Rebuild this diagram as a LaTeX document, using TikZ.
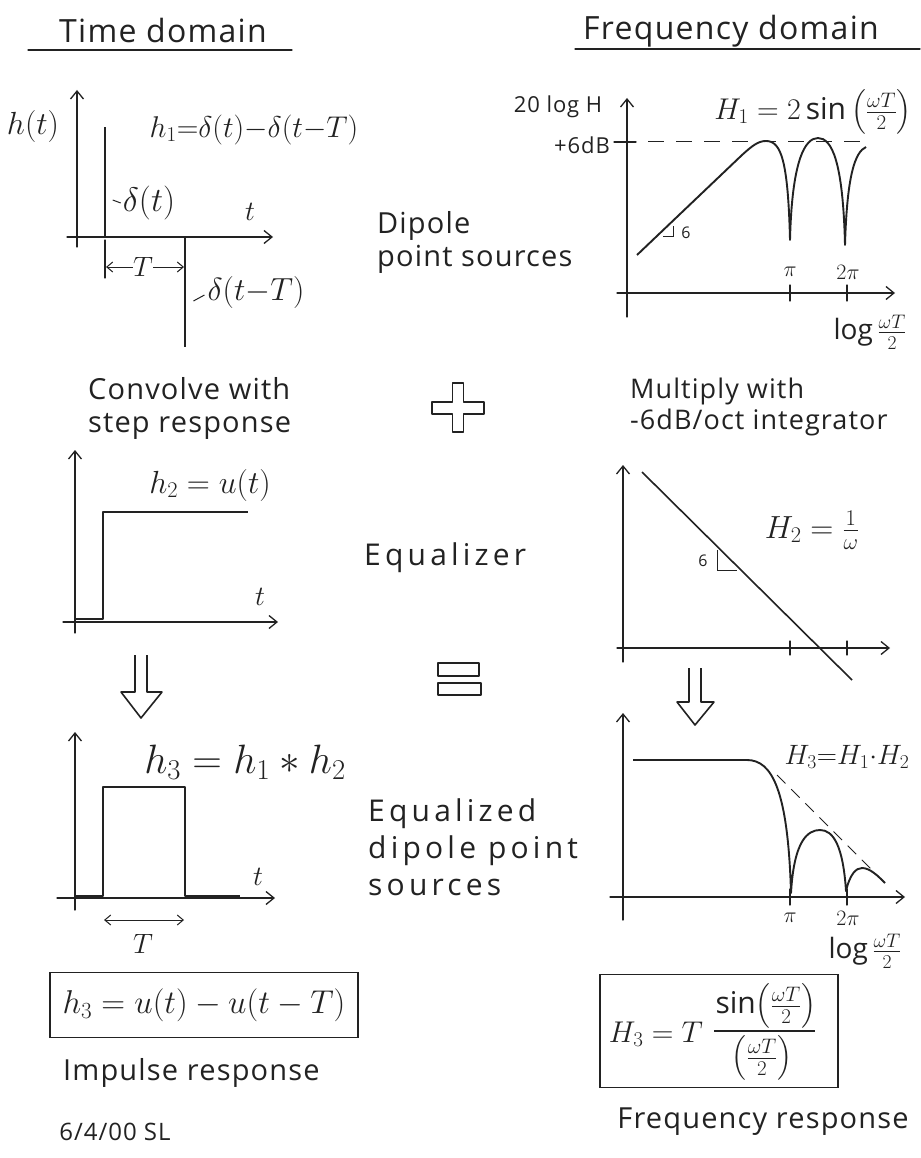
\RequirePackage{fix-cm}
\documentclass[tikz,border=0pt]{standalone}
\usepackage{amsmath}
\usepackage{fontspec}
\setmainfont[LetterSpace=4]{Open Sans}
\newfontfamily\widefont[LetterSpace=14]{Open Sans}
\usetikzlibrary{arrows.meta}
\definecolor{ink}{HTML}{222222}
\tikzset{
  ln/.style={draw=ink, line width=1.3pt, line cap=round, line join=round},
  ax/.style={ln, -{Straight Barb[length=8pt,width=13pt,line width=1.3pt]}},
  spike/.style={draw=ink, line width=2.6pt},
  sig/.style={draw=ink, line width=1.9pt, line join=round},
  dim/.style={draw=ink, line width=1pt, -{Straight Barb[length=6pt,width=10pt,line width=1pt]}},
  dimboth/.style={draw=ink, line width=1pt, {Straight Barb[length=6pt,width=10pt,line width=1pt]}-{Straight Barb[length=6pt,width=10pt,line width=1pt]}},
  hollow/.style={draw=ink, line width=1.6pt, line join=round},
  txt/.style={text=ink, inner sep=0pt},
  ttl/.style={txt, font=\fontsize{32}{36}\selectfont},
  lbl/.style={txt, font=\fontsize{29}{33}\selectfont},
  lblw/.style={txt, font=\widefont\fontsize{30}{37}\selectfont},
  mth/.style={txt, font=\fontsize{28}{32}\selectfont},
  mthb/.style={txt, font=\fontsize{32}{36}\selectfont},
  mthf/.style={txt, font=\fontsize{30}{34}\selectfont},
  sm/.style={txt, font=\fontsize{22}{26}\selectfont},
  tiny/.style={txt, font=\fontsize{16}{20}\selectfont},
  frame/.style={draw=ink, line width=1.6pt},
}
\begin{document}
\begin{tikzpicture}[x=1pt,y=-1pt]
\fill[white] (0,0) rectangle (920,1158);
\useasboundingbox (0,0) rectangle (920,1158);

% ---------- titles ----------
\node[ttl] (tdom) at (163,31) {Time domain};
\draw[ln] (28,50) -- (292,50);
\node[ttl] (fdom) at (731,31) {Frequency domain};
\draw[ln] (575,49) -- (920,49);

% ---------- top left: dipole impulse response ----------
\draw[ax] (77,247) -- (77,90);
\draw[ax] (67,237) -- (273,237);
\draw[spike] (105,237) -- (105,127);
\draw[spike] (185,237) -- (185,347);
\node[mthb] (ht) at (33,127) {$h(t)$};
\node[mthf] (h1) at (254,130) {$h_1{=}\delta(t){-}\delta(t{-}T)$};
\node[txt, font=\fontsize{34}{38}\selectfont] (d1) at (149,203) {$\delta(t)$};
\draw[draw=ink, line width=1pt] ([xshift=-10pt,yshift=3pt]d1.west) -- ([xshift=-2pt]d1.west);
\node[mth] (t1) at (250,212) {$t$};
\node[mth] (T1) at (143,267) {$T$};
\draw[dim] (T1.west) -- (106,267);
\draw[dim] (T1.east) -- (184,267);
\draw[ln] (105,240) -- (105,278);
\node[mthb] (d2) at (256,293) {$\delta(t{-}T)$};
\draw[draw=ink, line width=1pt] ([xshift=-14pt,yshift=-8pt]d2.west) -- ([xshift=-3pt,yshift=-2pt]d2.west);

\node[lbl, align=left, anchor=west] (dps) at (377,242) {Dipole\\point sources};

% ---------- top right: dipole frequency response ----------
\draw[ax] (627,317) -- (627,98);
\draw[ax] (617,293) -- (895,293);
\draw[ln] (790,285) -- (790,301);
\draw[ln] (847,285) -- (847,301);
\draw[ln] (614,142) -- (636,142);
\draw[draw=ink, line width=1pt, dash pattern=on 16pt off 12pt] (648,142) -- (867,142);
\node[sm] (db) at (582,145) {+6dB};
\node[sm] (lgH) at (558,107) {20 log H};
\node[mthf] (H1) at (813,112) {$H_1 = 2\sin\left(\frac{\omega T}{2}\right)$};
\draw[sig] (637,255) -- (742,155)
  .. controls (752,146) and (758,141) .. (766,141)
  .. controls (781,141) and (788,160) .. (790,240)
  .. controls (792,160) and (805,138) .. (818,138)
  .. controls (832,138) and (843,162) .. (845,245)
  .. controls (847,175) and (855,152) .. (866,147);
\draw[draw=ink, line width=1pt] (663,237) -- (673,237) -- (673,226);
\node[tiny] (s6a) at (686,233) {6};
\node[sm] (pi1) at (790,272) {$\pi$};
\node[sm] (tpi1) at (848,272) {$2\pi$};
\node[mth] (lw1) at (870,332) {$\log\frac{\omega T}{2}$};

% ---------- middle captions ----------
\node[lbl, align=left, anchor=west] (conv) at (88,408) {Convolve with\\step response};
\node[txt, font=\fontsize{27}{31}\selectfont, align=left, anchor=west] (mult) at (630,407) {Multiply with\\-6dB/oct integrator};
\draw[hollow] (452.5,383) -- (463.5,383) -- (463.5,402) -- (484,402) -- (484,414) -- (463.5,414)
  -- (463.5,432) -- (452.5,432) -- (452.5,414) -- (432,414) -- (432,402) -- (452.5,402) -- cycle;

% ---------- middle left: step ----------
\draw[ax] (75,633) -- (75,450);
\draw[ax] (63,622) -- (278,622);
\draw[sig] (75,619) -- (103,619) -- (103,512) -- (248,512);
\node[mthb] (h2) at (210,485) {$h_2 = u(t)$};
\node[mth] (t2) at (260,597) {$t$};

\node[lblw, anchor=west] (eqz) at (364,558) {Equalizer};

% ---------- middle right: integrator ----------
\draw[ax] (623,662) -- (623,465);
\draw[ax] (617,648) -- (890,648);
\draw[ln] (790,641) -- (790,655);
\draw[ln] (847,641) -- (847,655);
\draw[sig, line width=1.6pt] (642,472) -- (852,680);
\draw[draw=ink, line width=1pt] (717,550) -- (717,570) -- (737,570);
\node[tiny] (s6b) at (703,561) {6};
\node[mthb] (H2) at (812,530) {$H_2 = \frac{1}{\omega}$};

% ---------- hollow arrows and equivalence ----------
\draw[hollow] (135,655) -- (135,692) -- (121,692) -- (141,718) -- (162,692) -- (147,692) -- (147,655);
\draw[hollow] (689,668) -- (689,702) -- (677,702) -- (695,725) -- (714,702) -- (701,702) -- (701,668);
\draw[hollow] (438,663) rectangle (479,676);
\draw[hollow] (438,683) rectangle (481,695);

% ---------- bottom left: rectangular pulse ----------
\draw[ax] (75,910) -- (75,732);
\draw[ax] (57,898) -- (275,898);
\draw[sig] (75,896) -- (103,896) -- (103,787) -- (185,787) -- (185,896) -- (240,896);
\node[txt, font=\fontsize{41}{45}\selectfont] (h3) at (245,762) {$h_3 = h_1 \ast h_2$};
\node[mth] (t3) at (258,877) {$t$};
\draw[dimboth] (104,920) -- (184,920);
\node[mth] (T3) at (143,944) {$T$};
\node[frame, minimum width=308pt, minimum height=65pt] (box1) at (204,1005) {};
\node[txt, font=\fontsize{33}{37}\selectfont] (f1) at (box1.center) {$h_3 = u(t) - u(t - T)$};
\node[lbl, anchor=west] (imp) at (63,1073) {Impulse response};
\node[txt, font=\fontsize{24}{28}\selectfont] (date) at (115,1132) {6/4/00 SL};

\node[lblw, align=left, anchor=west] (eqd) at (368,847) {Equalized\\dipole point\\sources};

% ---------- bottom right: equalized frequency response ----------
\draw[ax] (623,920) -- (623,713);
\draw[ax] (610,897) -- (905,897);
\draw[ln] (790,889) -- (790,905);
\draw[ln] (847,889) -- (847,905);
\draw[sig] (633,760) -- (747,760)
  .. controls (772,760) and (788,790) .. (791,893)
  .. controls (794,840) and (808,830) .. (820,830)
  .. controls (833,830) and (843,845) .. (846,891)
  .. controls (850,874) and (856,868) .. (862,868)
  .. controls (870,868) and (878,876) .. (885,883);
\draw[draw=ink, line width=1pt, dash pattern=on 12pt off 8pt] (777,775) -- (887,885);
\node[mth] (H3r) at (847,757) {$H_3{=}H_1{\cdot}H_2$};
\node[sm] (pi3) at (790,918) {$\pi$};
\node[sm] (tpi3) at (848,918) {$2\pi$};
\node[mth] (lw3) at (865,951) {$\log\frac{\omega T}{2}$};
\node[frame, minimum width=238pt, minimum height=113pt] (box2) at (719,1031) {};
\node[mthf] (f2a) at (656,1034) {$H_3 = T$};
\node[mthf] (f2n) at (766,1006) {$\sin\bigl(\tfrac{\omega T}{2}\bigr)$};
\node[mthf] (f2d) at (762,1058) {$\bigl(\tfrac{\omega T}{2}\bigr)$};
\draw[draw=ink, line width=1.3pt] (714,1031) -- (815,1031);
\node[lbl] (fresp) at (763,1122) {Frequency response};
\end{tikzpicture}
\end{document}
